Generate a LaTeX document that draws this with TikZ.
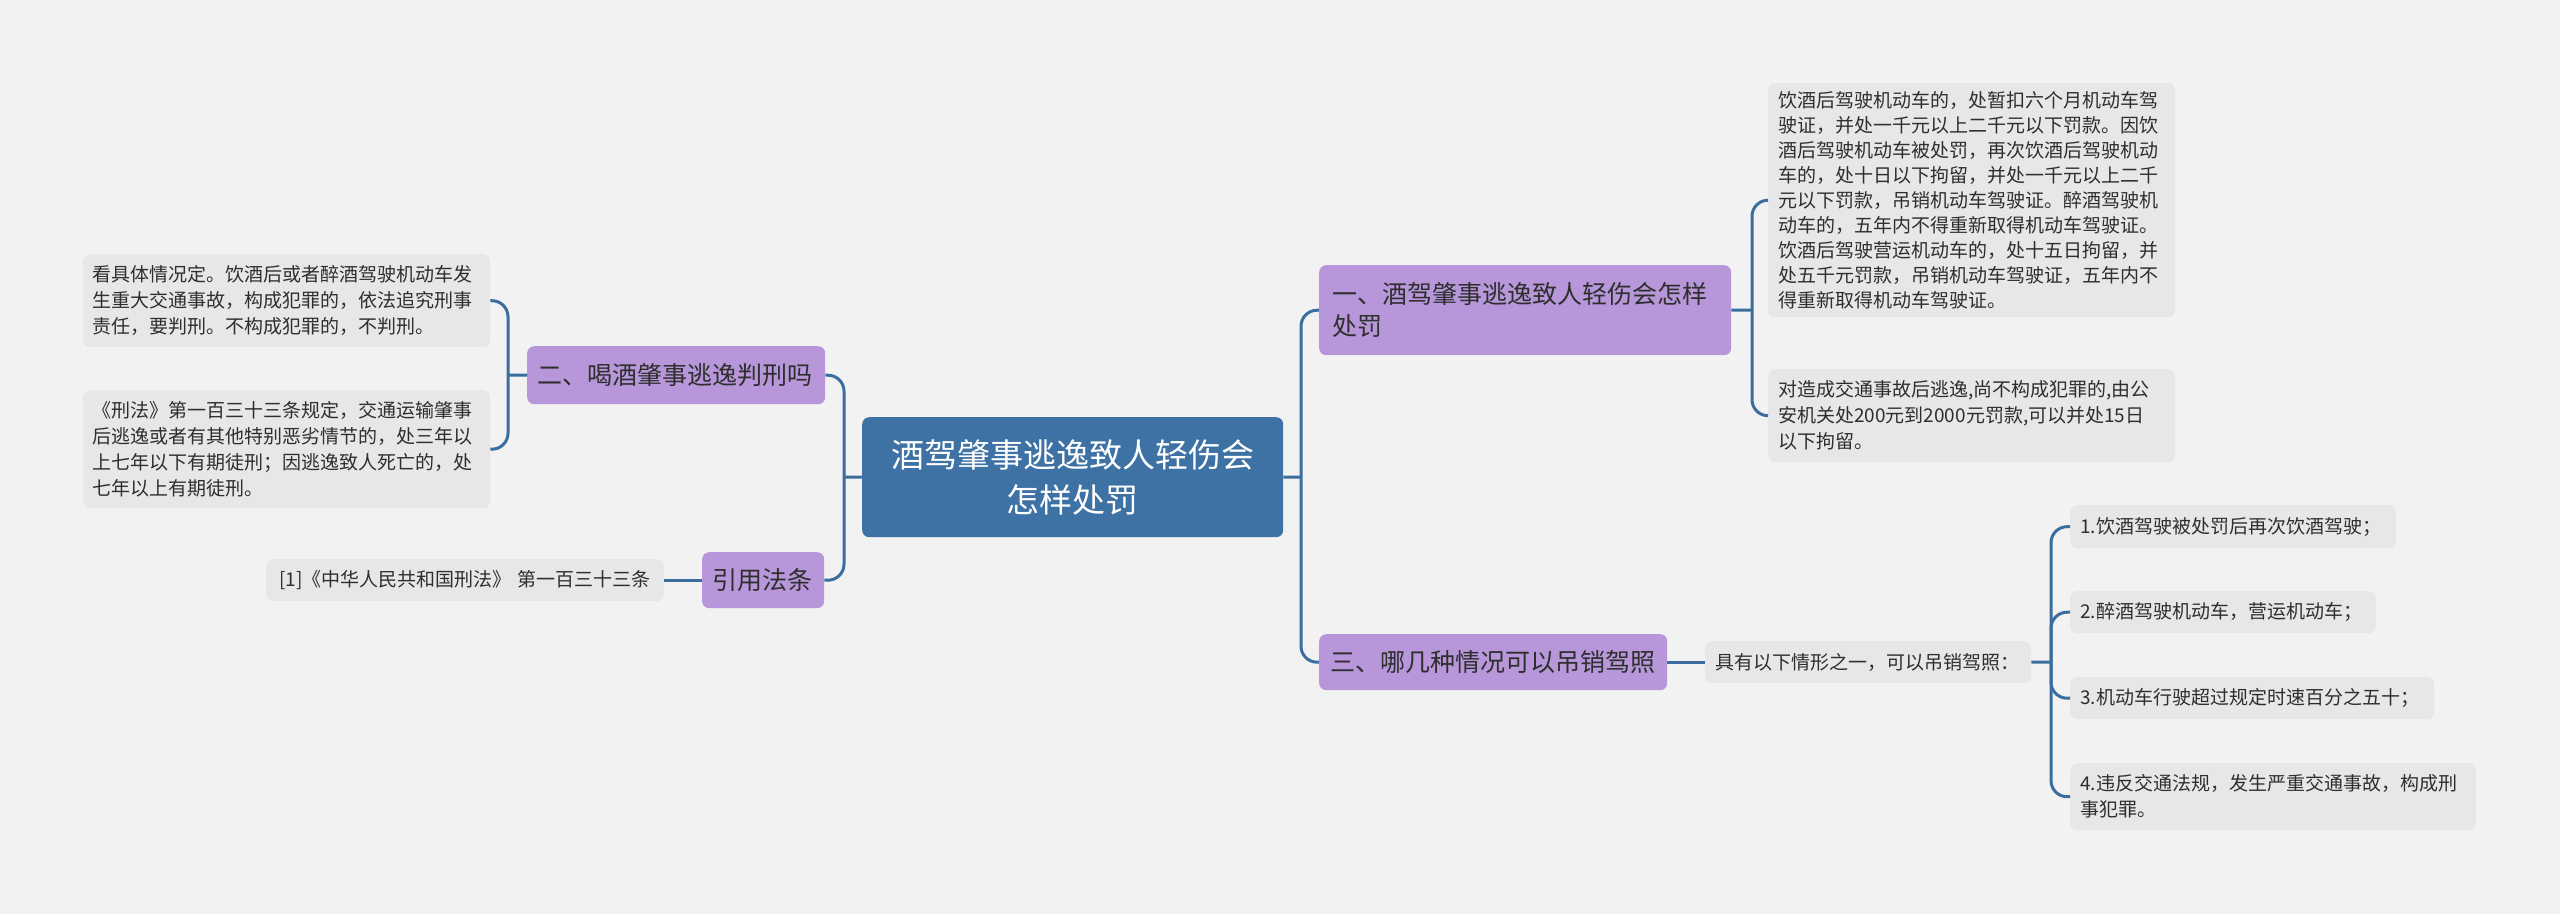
\documentclass[tikz,border=0pt]{standalone}
\usepackage{fontspec}
\newfontfamily\cjk{Noto Sans CJK SC}
\definecolor{bgc}{HTML}{F2F2F2}
\definecolor{leafc}{HTML}{E7E7E7}
\definecolor{brc}{HTML}{B796D9}
\definecolor{rootc}{HTML}{3E72A4}
\definecolor{connc}{HTML}{3B6E9F}
\definecolor{txt}{HTML}{2E2E2E}
\tikzset{
  box/.style={anchor=north west, inner ysep=0pt, align=left, rounded corners=7pt},
  leaf/.style={box, fill=leafc, text=txt, font=\cjk\fontsize{19}{26}\selectfont},
  branch/.style={box, fill=brc, text=txt, font=\cjk\fontsize{25}{32}\selectfont},
  rootbox/.style={box, fill=rootc, text=white, align=center, font=\cjk\fontsize{33}{45}\selectfont},
  conn/.style={draw=connc, line width=3pt, rounded corners=16pt},
}
\begin{document}
\begin{tikzpicture}[x=1pt,y=-1pt]
\useasboundingbox (0,0) rectangle (2560,914);
\fill[bgc] (0,0) rectangle (2560,914);

\node[rootbox, minimum width=421pt, minimum height=120pt, inner xsep=10pt, text width=401pt] (root) at (862,417) {酒驾肇事逃逸致人轻伤会\\怎样处罚};

\node[branch, minimum width=412pt, minimum height=90pt, inner xsep=13pt, text width=386pt] (b1) at (1319,265) {一、酒驾肇事逃逸致人轻伤会怎样\\处罚};
\node[branch, minimum width=298pt, minimum height=58pt, inner xsep=10pt, text width=278pt] (b2) at (527,346) {二、喝酒肇事逃逸判刑吗};
\node[branch, minimum width=122pt, minimum height=56pt, inner xsep=10pt, text width=102pt] (b4) at (702,552) {引用法条};
\node[branch, minimum width=348pt, minimum height=56pt, inner xsep=11pt, text width=326pt] (b3) at (1319,634) {三、哪几种情况可以吊销驾照};

\node[leaf, font=\cjk\fontsize{19}{25}\selectfont, minimum width=407pt, minimum height=234pt, inner xsep=10pt, text width=387pt] (r1) at (1768,83) {饮酒后驾驶机动车的，处暂扣六个月机动车驾\\驶证，并处一千元以上二千元以下罚款。因饮\\酒后驾驶机动车被处罚，再次饮酒后驾驶机动\\车的，处十日以下拘留，并处一千元以上二千\\元以下罚款，吊销机动车驾驶证。醉酒驾驶机\\动车的，五年内不得重新取得机动车驾驶证。\\饮酒后驾驶营运机动车的，处十五日拘留，并\\处五千元罚款，吊销机动车驾驶证，五年内不\\得重新取得机动车驾驶证。};
\node[leaf, minimum width=407pt, minimum height=93pt, inner xsep=10pt, text width=387pt] (r2) at (1768,369) {对造成交通事故后逃逸,尚不构成犯罪的,由公\\安机关处200元到2000元罚款,可以并处15日\\以下拘留。};

\node[leaf, minimum width=407pt, minimum height=93pt, inner xsep=9pt, text width=389pt] (l1) at (83,254) {看具体情况定。饮酒后或者醉酒驾驶机动车发\\生重大交通事故，构成犯罪的，依法追究刑事\\责任，要判刑。不构成犯罪的，不判刑。};
\node[leaf, minimum width=407pt, minimum height=118pt, inner xsep=9pt, text width=389pt] (l2) at (83,390) {《刑法》第一百三十三条规定，交通运输肇事\\后逃逸或者有其他特别恶劣情节的，处三年以\\上七年以下有期徒刑；因逃逸致人死亡的，处\\七年以上有期徒刑。};

\node[leaf, minimum width=398pt, minimum height=42pt, inner xsep=13pt, text width=372pt] (ref) at (266,559) {[1]《中华人民共和国刑法》 第一百三十三条};

\node[leaf, minimum width=326pt, minimum height=42pt, inner xsep=10pt, text width=306pt] (jx) at (1705,641) {具有以下情形之一，可以吊销驾照：};

\node[leaf, minimum width=326pt, minimum height=43pt, inner xsep=10pt, text width=306pt] (i1) at (2070,505) {1.饮酒驾驶被处罚后再次饮酒驾驶；};
\node[leaf, minimum width=306pt, minimum height=42pt, inner xsep=10pt, text width=286pt] (i2) at (2070,591) {2.醉酒驾驶机动车，营运机动车；};
\node[leaf, minimum width=364pt, minimum height=42pt, inner xsep=10pt, text width=344pt] (i3) at (2070,677) {3.机动车行驶超过规定时速百分之五十；};
\node[leaf, minimum width=406pt, minimum height=67pt, inner xsep=10pt, text width=386pt] (i4) at (2070,763) {4.违反交通法规，发生严重交通事故，构成刑\\事犯罪。};

% connectors
\coordinate (jr) at (1301,477);
\draw[conn] (root.east) -- (jr);
\draw[conn] (jr) |- (b1.west);
\draw[conn] (jr) |- (b3.west);

\coordinate (jl) at (844,477);
\draw[conn] (root.west) -- (jl);
\draw[conn] (jl) |- (b2.east);
\draw[conn] (jl) |- (b4.east);

\coordinate (j2) at (508,375);
\draw[conn] (b2.west) -- (j2);
\draw[conn] (j2) |- (l1.east);
\draw[conn] (j2) |- (l2.east);

\draw[conn] (b4.west) -- (ref.east);

\coordinate (j1) at (1752,310);
\draw[conn] (b1.east) -- (j1);
\draw[conn] (j1) |- (r1.west);
\draw[conn] (j1) |- (r2.west);

\draw[conn] (b3.east) -- (jx.west);

\coordinate (jj) at (2051,662);
\draw[conn] (jx.east) -- (jj);
\draw[conn] (jj) |- (i1.west);
\draw[conn] (jj) |- (i2.west);
\draw[conn] (jj) |- (i3.west);
\draw[conn] (jj) |- (i4.west);
\end{tikzpicture}
\end{document}
